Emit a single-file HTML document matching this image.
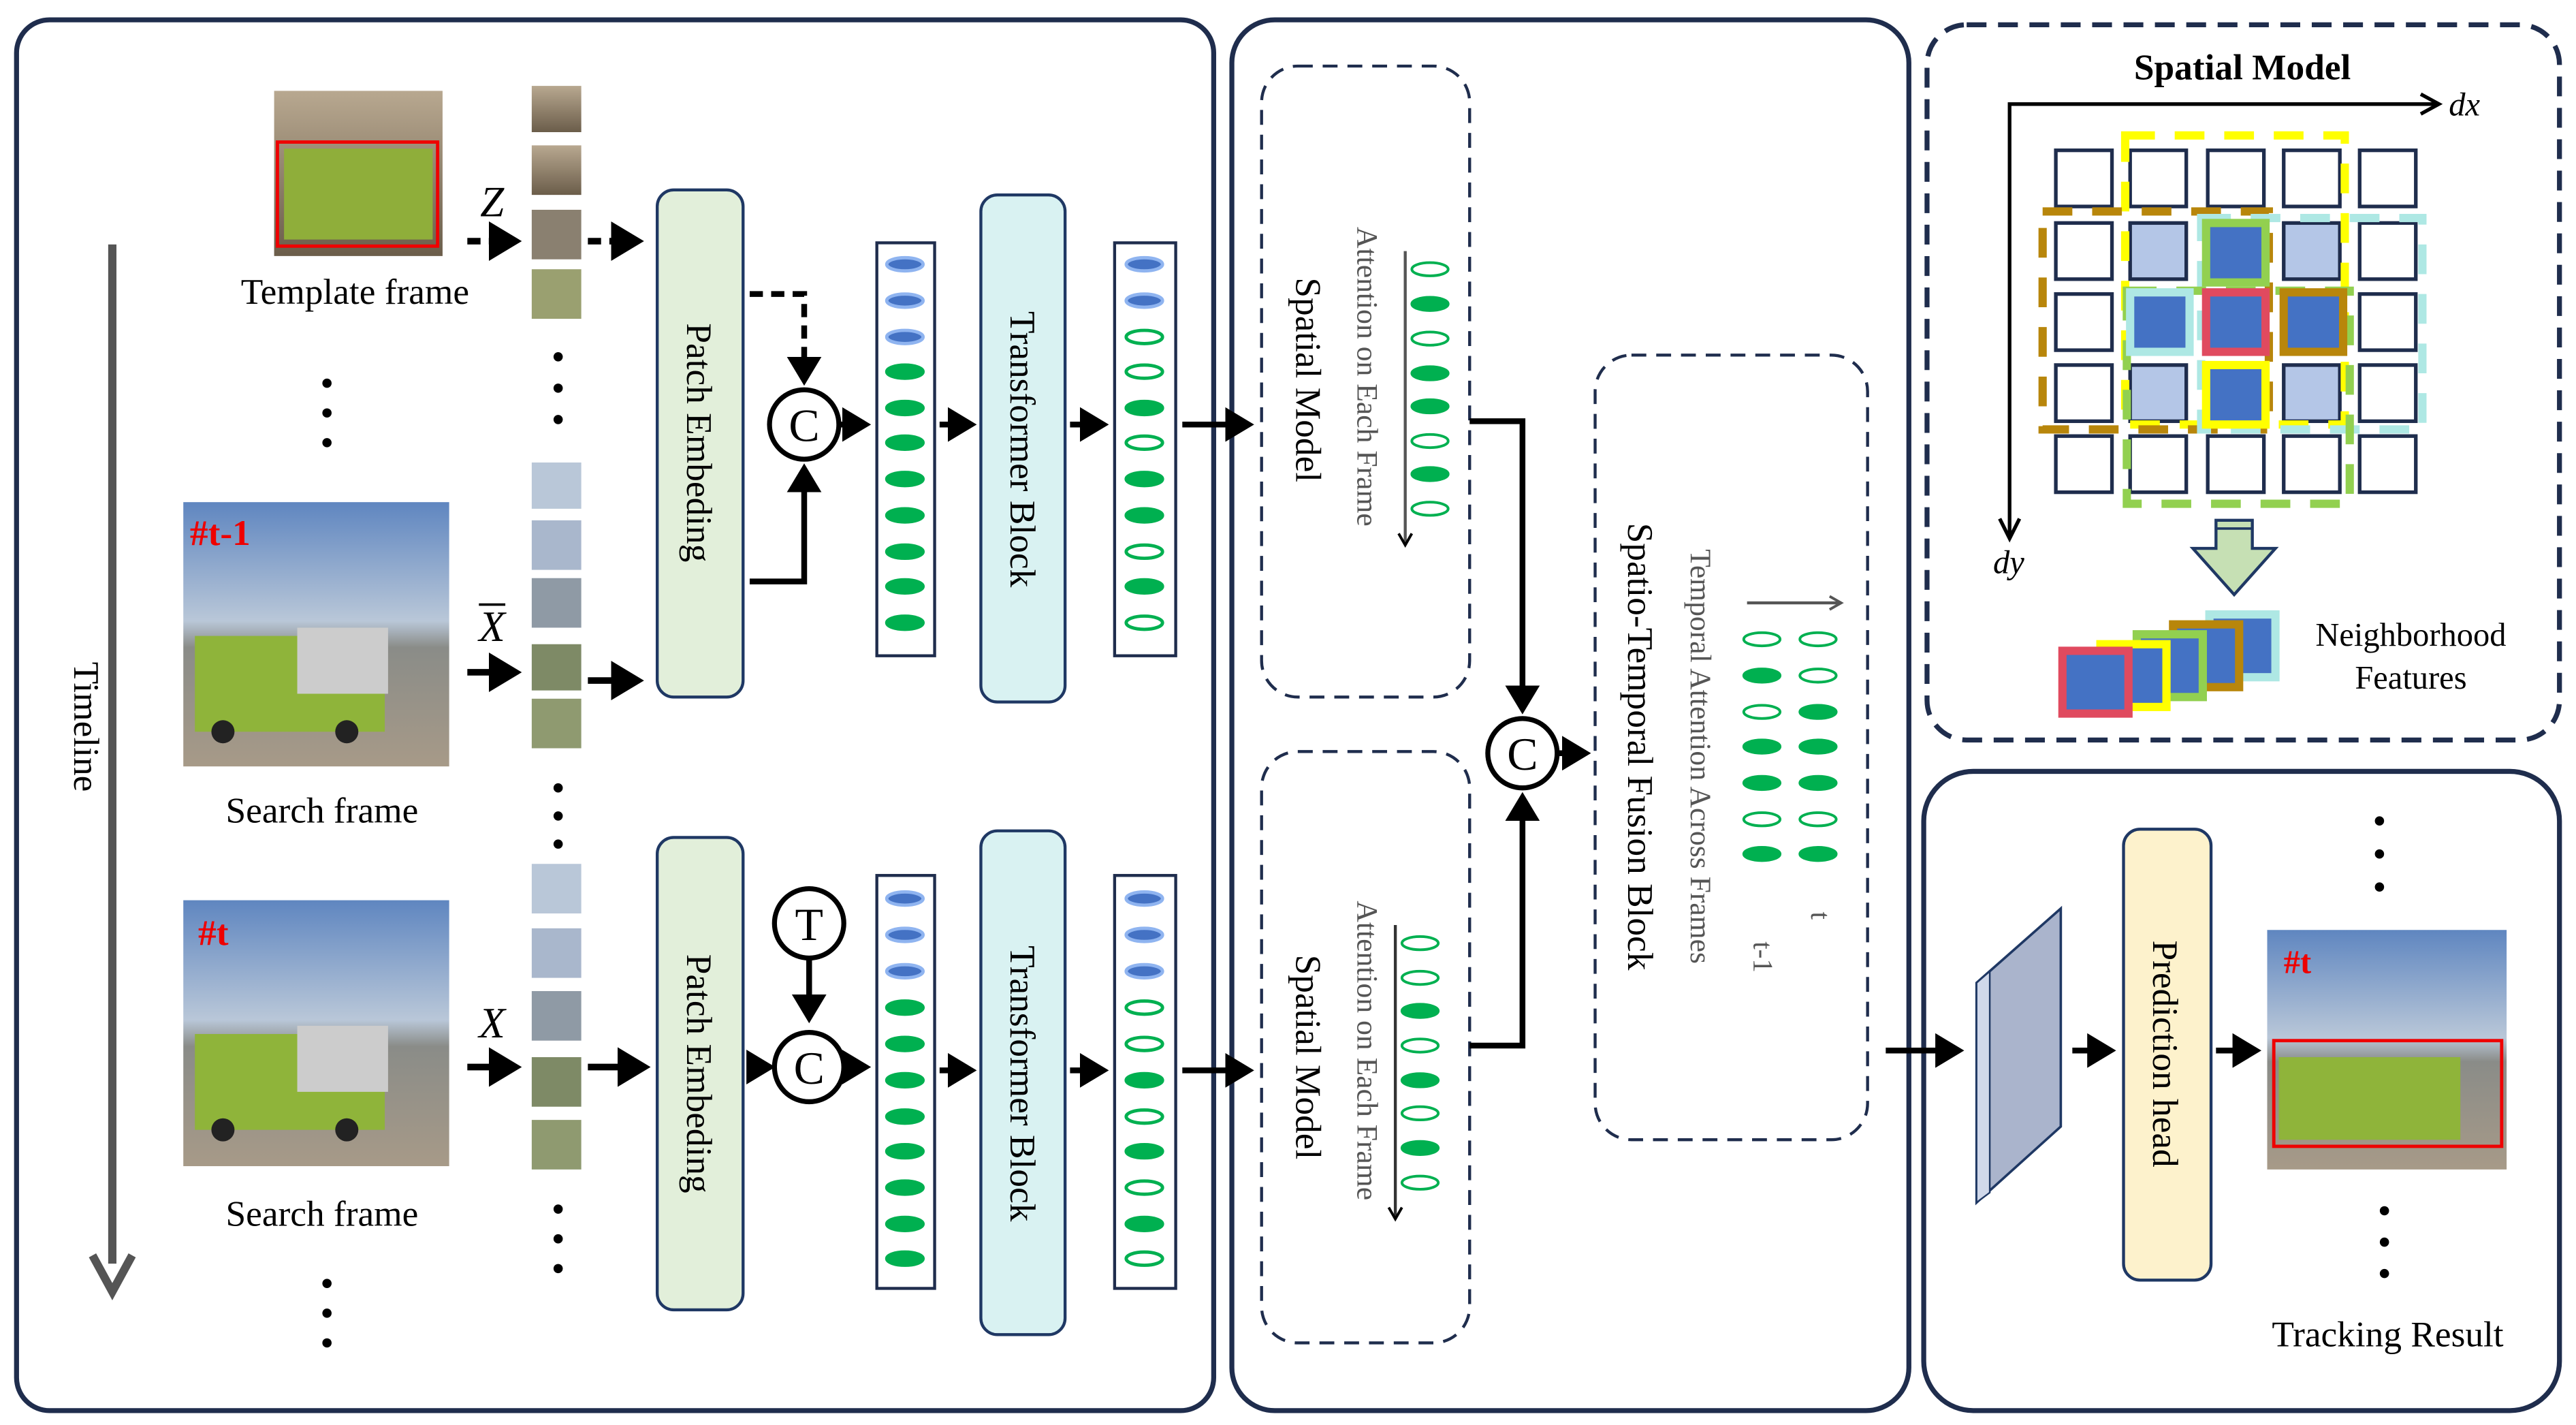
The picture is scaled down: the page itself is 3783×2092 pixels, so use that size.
<!DOCTYPE html>
<html><head><meta charset="utf-8"><style>
html,body{margin:0;padding:0;background:#fff}
svg{display:block;font-family:"Liberation Serif",serif}
text{font-family:"Liberation Serif",serif}
</style></head><body>
<svg width="3783" height="2092" viewBox="0 0 1560 862.7" xmlns="http://www.w3.org/2000/svg" font-family="Liberation Serif, serif">
<defs>
<marker id="ah" markerWidth="6" markerHeight="6" refX="4" refY="3" orient="auto" markerUnits="strokeWidth"><path d="M0,0 L5,3 L0,6 Z" fill="#000"/></marker>
<marker id="ahl" markerWidth="10" markerHeight="10" refX="8" refY="5" orient="auto" markerUnits="userSpaceOnUse"><path d="M1,1 L8,5 L1,9" fill="none" stroke="#000" stroke-width="1.6"/></marker>
<marker id="ahg" markerWidth="10" markerHeight="10" refX="8" refY="5" orient="auto" markerUnits="userSpaceOnUse"><path d="M1,1 L8,5 L1,9" fill="none" stroke="#555" stroke-width="1.6"/></marker>
<linearGradient id="sky" x1="0" y1="0" x2="0" y2="1">
<stop offset="0" stop-color="#5f86c0"/><stop offset="0.45" stop-color="#b9c7d8"/><stop offset="0.55" stop-color="#8a8c88"/><stop offset="1" stop-color="#a79a88"/></linearGradient>
<linearGradient id="bld" x1="0" y1="0" x2="0" y2="1"><stop offset="0" stop-color="#b8a890"/><stop offset="1" stop-color="#6b5d4a"/></linearGradient>
</defs>

<!-- Panels -->
<rect x="10" y="12" width="725" height="842" rx="20" fill="none" stroke="#1f2d4d" stroke-width="3"/>
<rect x="746" y="12" width="410" height="842" rx="26" fill="none" stroke="#1f2d4d" stroke-width="3"/>
<rect x="1167" y="15" width="383" height="433" rx="24" fill="none" stroke="#1f2d4d" stroke-width="3" stroke-dasharray="12,7"/>
<rect x="1165" y="467" width="385" height="387" rx="30" fill="none" stroke="#1f2d4d" stroke-width="3"/>

<!-- Timeline -->
<line x1="68" y1="148" x2="68" y2="765" stroke="#555" stroke-width="5"/>
<path d="M56,760 L68,782 L80,760" fill="none" stroke="#555" stroke-width="5"/>
<text x="45" y="440" font-size="22" text-anchor="middle" transform="rotate(90 45 440)">Timeline</text>

<!-- Template image -->
<rect x="166" y="55" width="102" height="100" fill="url(#bld)"/>
<rect x="172" y="90" width="90" height="55" fill="#8fae3a"/>
<rect x="168" y="86" width="97" height="63" fill="none" stroke="#e00" stroke-width="2"/>
<text x="215" y="184" font-size="22" text-anchor="middle">Template frame</text>
<circle cx="198" cy="232" r="2.8"/><circle cx="198" cy="250" r="2.8"/><circle cx="198" cy="268" r="2.8"/>

<!-- Search image 1 -->
<rect x="111" y="304" width="161" height="160" fill="url(#sky)"/>
<rect x="118" y="385" width="115" height="58" fill="#8fb43a"/>
<rect x="180" y="380" width="55" height="40" fill="#ccc"/>
<circle cx="135" cy="443" r="7" fill="#222"/><circle cx="210" cy="443" r="7" fill="#222"/>
<text x="115" y="330" font-size="22" fill="#e00" font-weight="bold" font-family="Liberation Mono, monospace">#t-1</text>
<text x="195" y="498" font-size="22" text-anchor="middle">Search frame</text>

<!-- Search image 2 -->
<rect x="111" y="545" width="161" height="161" fill="url(#sky)"/>
<rect x="118" y="626" width="115" height="58" fill="#8fb43a"/>
<rect x="180" y="621" width="55" height="40" fill="#ccc"/>
<circle cx="135" cy="684" r="7" fill="#222"/><circle cx="210" cy="684" r="7" fill="#222"/>
<text x="120" y="572" font-size="22" fill="#e00" font-weight="bold" font-family="Liberation Mono, monospace">#t</text>
<text x="195" y="742" font-size="22" text-anchor="middle">Search frame</text>
<circle cx="198" cy="777" r="2.8"/><circle cx="198" cy="795" r="2.8"/><circle cx="198" cy="813" r="2.8"/>

<!-- Patches -->
<g>
<rect x="322" y="52" width="30" height="28" fill="url(#bld)"/>
<rect x="322" y="88" width="30" height="30" fill="url(#bld)"/>
<rect x="322" y="127" width="30" height="30" fill="#8a8070"/>
<rect x="322" y="163" width="30" height="30" fill="#9aa070"/>
<circle cx="338" cy="216" r="2.8"/><circle cx="338" cy="235" r="2.8"/><circle cx="338" cy="254" r="2.8"/>
<rect x="322" y="280" width="30" height="28" fill="#b9c7d8"/>
<rect x="322" y="315" width="30" height="30" fill="#a9b7cc"/>
<rect x="322" y="350" width="30" height="30" fill="#8f9aa5"/>
<rect x="322" y="390" width="30" height="28" fill="#7e8a66"/>
<rect x="322" y="423" width="30" height="30" fill="#8f9a70"/>
<circle cx="338" cy="477" r="2.8"/><circle cx="338" cy="494" r="2.8"/><circle cx="338" cy="511" r="2.8"/>
<rect x="322" y="523" width="30" height="30" fill="#b9c7d8"/>
<rect x="322" y="562" width="30" height="30" fill="#a9b7cc"/>
<rect x="322" y="600" width="30" height="30" fill="#8f9aa5"/>
<rect x="322" y="640" width="30" height="30" fill="#7e8a66"/>
<rect x="322" y="678" width="30" height="30" fill="#8f9a70"/>
<circle cx="338" cy="732" r="2.8"/><circle cx="338" cy="750" r="2.8"/><circle cx="338" cy="768" r="2.8"/>
</g>

<!-- Labels Z X -->
<text x="298" y="131" font-size="26" font-style="italic" text-anchor="middle">Z</text>
<text x="298" y="388" font-size="26" font-style="italic" text-anchor="middle">X</text>
<line x1="290" y1="366" x2="306" y2="366" stroke="#000" stroke-width="1.5"/>
<text x="298" y="628" font-size="26" font-style="italic" text-anchor="middle">X</text>

<g stroke="#000" stroke-width="4" fill="none">
<line x1="283" y1="146" x2="312" y2="146" stroke-dasharray="8,5" marker-end="url(#ah)"/>
<line x1="356" y1="146" x2="386" y2="146" stroke-dasharray="8,5" marker-end="url(#ah)"/>
<line x1="283" y1="407" x2="312" y2="407" marker-end="url(#ah)"/>
<line x1="356" y1="412" x2="386" y2="412" marker-end="url(#ah)"/>
<line x1="283" y1="646" x2="312" y2="646" marker-end="url(#ah)"/>
<line x1="356" y1="646" x2="390" y2="646" marker-end="url(#ah)"/>
</g>

<!-- Patch Embedding -->
<rect x="398" y="115" width="52" height="307" rx="10" fill="#e2efda" stroke="#1f3864" stroke-width="1.8"/>
<text x="416" y="268" font-size="22" text-anchor="middle" transform="rotate(90 416 268)">Patch Embeding</text>
<rect x="398" y="507" width="52" height="286" rx="10" fill="#e2efda" stroke="#1f3864" stroke-width="1.8"/>
<text x="416" y="650" font-size="22" text-anchor="middle" transform="rotate(90 416 650)">Patch Embeding</text>

<!-- Connect upper -->
<g stroke="#000" stroke-width="3.5" fill="none">
<polyline points="454,178 487,178 487,230" stroke-dasharray="8,5" marker-end="url(#ah)"/>
<polyline points="454,352 487,352 487,284" marker-end="url(#ah)"/>
<line x1="508" y1="257" x2="524" y2="257" marker-end="url(#ah)"/>
<line x1="569" y1="257" x2="588" y2="257" marker-end="url(#ah)"/>
<line x1="648" y1="257" x2="668" y2="257" marker-end="url(#ah)"/>
<line x1="716" y1="257" x2="756" y2="257" marker-end="url(#ah)"/>
<line x1="490" y1="581" x2="490" y2="616" marker-end="url(#ah)"/>
<line x1="454" y1="646" x2="466" y2="646" marker-end="url(#ah)"/>
<line x1="511" y1="646" x2="524" y2="646" marker-end="url(#ah)"/>
<line x1="569" y1="648" x2="588" y2="648" marker-end="url(#ah)"/>
<line x1="648" y1="648" x2="668" y2="648" marker-end="url(#ah)"/>
<line x1="716" y1="648" x2="756" y2="648" marker-end="url(#ah)"/>
</g>
<circle cx="487" cy="257" r="21" fill="#fff" stroke="#000" stroke-width="3"/>
<text x="487" y="267" font-size="28" text-anchor="middle">C</text>
<circle cx="490" cy="559" r="21" fill="#fff" stroke="#000" stroke-width="3"/>
<text x="490" y="569" font-size="28" text-anchor="middle">T</text>
<circle cx="490" cy="646" r="21" fill="#fff" stroke="#000" stroke-width="3"/>
<text x="490" y="656" font-size="28" text-anchor="middle">C</text>

<!-- Token columns -->
<g stroke="#1f2d4d" stroke-width="1.8" fill="#fff">
<rect x="531" y="147" width="35" height="250"/>
<rect x="675" y="147" width="37" height="250"/>
<rect x="531" y="530" width="35" height="250"/>
<rect x="675" y="530" width="37" height="250"/>
</g>
<g stroke-width="2">
<g fill="#4472c4" stroke="#8fb4f0">
<ellipse cx="548" cy="160" rx="11" ry="4"/><ellipse cx="548" cy="182" rx="11" ry="4"/><ellipse cx="548" cy="204" rx="11" ry="4"/>
<ellipse cx="693" cy="160" rx="11" ry="4"/><ellipse cx="693" cy="182" rx="11" ry="4"/>
<ellipse cx="548" cy="544" rx="11" ry="4"/><ellipse cx="548" cy="566" rx="11" ry="4"/><ellipse cx="548" cy="588" rx="11" ry="4"/>
<ellipse cx="693" cy="544" rx="11" ry="4"/><ellipse cx="693" cy="566" rx="11" ry="4"/><ellipse cx="693" cy="588" rx="11" ry="4"/>
</g>
<g fill="#00b050" stroke="#00b050">
<ellipse cx="548" cy="225" rx="11" ry="4"/><ellipse cx="548" cy="247" rx="11" ry="4"/><ellipse cx="548" cy="268" rx="11" ry="4"/><ellipse cx="548" cy="290" rx="11" ry="4"/><ellipse cx="548" cy="312" rx="11" ry="4"/><ellipse cx="548" cy="334" rx="11" ry="4"/><ellipse cx="548" cy="355" rx="11" ry="4"/><ellipse cx="548" cy="377" rx="11" ry="4"/>
<ellipse cx="548" cy="610" rx="11" ry="4"/><ellipse cx="548" cy="632" rx="11" ry="4"/><ellipse cx="548" cy="654" rx="11" ry="4"/><ellipse cx="548" cy="676" rx="11" ry="4"/><ellipse cx="548" cy="697" rx="11" ry="4"/><ellipse cx="548" cy="719" rx="11" ry="4"/><ellipse cx="548" cy="741" rx="11" ry="4"/><ellipse cx="548" cy="762" rx="11" ry="4"/>
<ellipse cx="693" cy="247" rx="11" ry="4"/><ellipse cx="693" cy="290" rx="11" ry="4"/><ellipse cx="693" cy="312" rx="11" ry="4"/><ellipse cx="693" cy="355" rx="11" ry="4"/>
<ellipse cx="693" cy="654" rx="11" ry="4"/><ellipse cx="693" cy="697" rx="11" ry="4"/><ellipse cx="693" cy="741" rx="11" ry="4"/>
</g>
<g fill="#fff" stroke="#00b050">
<ellipse cx="693" cy="204" rx="11" ry="4"/><ellipse cx="693" cy="225" rx="11" ry="4"/><ellipse cx="693" cy="268" rx="11" ry="4"/><ellipse cx="693" cy="334" rx="11" ry="4"/><ellipse cx="693" cy="377" rx="11" ry="4"/>
<ellipse cx="693" cy="610" rx="11" ry="4"/><ellipse cx="693" cy="632" rx="11" ry="4"/><ellipse cx="693" cy="676" rx="11" ry="4"/><ellipse cx="693" cy="719" rx="11" ry="4"/><ellipse cx="693" cy="762" rx="11" ry="4"/>
</g>
</g>

<!-- Transformer blocks -->
<rect x="594" y="118" width="51" height="307" rx="10" fill="#d9f2f2" stroke="#1f3864" stroke-width="1.8"/>
<text x="612" y="272" font-size="22" text-anchor="middle" transform="rotate(90 612 272)">Transformer Block</text>
<rect x="594" y="503" width="51" height="305" rx="10" fill="#d9f2f2" stroke="#1f3864" stroke-width="1.8"/>
<text x="612" y="656" font-size="22" text-anchor="middle" transform="rotate(90 612 656)">Transformer Block</text>

<!-- Panel 2 -->
<rect x="764" y="40" width="126" height="382" rx="22" fill="none" stroke="#1f2d4d" stroke-width="1.8" stroke-dasharray="9,6"/>
<rect x="764" y="455" width="126" height="358" rx="22" fill="none" stroke="#1f2d4d" stroke-width="1.8" stroke-dasharray="9,6"/>
<text x="785" y="230" font-size="22" text-anchor="middle" transform="rotate(90 785 230)">Spatial Model</text>
<text x="822" y="228" font-size="18" fill="#555" text-anchor="middle" transform="rotate(90 822 228)">Attention on Each Frame</text>
<text x="785" y="640" font-size="22" text-anchor="middle" transform="rotate(90 785 640)">Spatial Model</text>
<text x="822" y="636" font-size="18" fill="#555" text-anchor="middle" transform="rotate(90 822 636)">Attention on Each Frame</text>
<line x1="851" y1="152" x2="851" y2="330" stroke="#555" stroke-width="1.8" marker-end="url(#ahl)"/>
<line x1="845" y1="560" x2="845" y2="738" stroke="#333" stroke-width="1.8" marker-end="url(#ahl)"/>
<g stroke-width="1.6" stroke="#00b050">
<ellipse cx="866" cy="163" rx="11" ry="4" fill="#fff"/><ellipse cx="866" cy="184" rx="11" ry="4" fill="#00b050"/><ellipse cx="866" cy="205" rx="11" ry="4" fill="#fff"/><ellipse cx="866" cy="226" rx="11" ry="4" fill="#00b050"/><ellipse cx="866" cy="246" rx="11" ry="4" fill="#00b050"/><ellipse cx="866" cy="267" rx="11" ry="4" fill="#fff"/><ellipse cx="866" cy="287" rx="11" ry="4" fill="#00b050"/><ellipse cx="866" cy="308" rx="11" ry="4" fill="#fff"/>
<ellipse cx="860" cy="571" rx="11" ry="4" fill="#fff"/><ellipse cx="860" cy="592" rx="11" ry="4" fill="#fff"/><ellipse cx="860" cy="612" rx="11" ry="4" fill="#00b050"/><ellipse cx="860" cy="633" rx="11" ry="4" fill="#fff"/><ellipse cx="860" cy="654" rx="11" ry="4" fill="#00b050"/><ellipse cx="860" cy="674" rx="11" ry="4" fill="#fff"/><ellipse cx="860" cy="695" rx="11" ry="4" fill="#00b050"/><ellipse cx="860" cy="716" rx="11" ry="4" fill="#fff"/>
</g>
<g stroke="#000" stroke-width="3.5" fill="none">
<polyline points="890,255 922,255 922,429" marker-end="url(#ah)"/>
<polyline points="890,633 922,633 922,483" marker-end="url(#ah)"/>
<line x1="944" y1="456" x2="960" y2="456" marker-end="url(#ah)"/>
</g>
<circle cx="922" cy="456" r="21" fill="#fff" stroke="#000" stroke-width="3"/>
<text x="922" y="466" font-size="28" text-anchor="middle">C</text>

<rect x="966" y="215" width="165" height="475" rx="22" fill="none" stroke="#1f2d4d" stroke-width="1.8" stroke-dasharray="9,6"/>
<text x="986" y="452" font-size="22" text-anchor="middle" transform="rotate(90 986 452)">Spatio-Temporal Fusion Block</text>
<text x="1024" y="458" font-size="18" fill="#555" text-anchor="middle" transform="rotate(90 1024 458)">Temporal Attention Across Frames</text>
<line x1="1058" y1="365" x2="1115" y2="365" stroke="#555" stroke-width="1.8" marker-end="url(#ahg)"/>
<g stroke-width="1.6" stroke="#00b050">
<ellipse cx="1067" cy="387" rx="11" ry="4" fill="#fff"/><ellipse cx="1067" cy="409" rx="11" ry="4" fill="#00b050"/><ellipse cx="1067" cy="431" rx="11" ry="4" fill="#fff"/><ellipse cx="1067" cy="452" rx="11" ry="4" fill="#00b050"/><ellipse cx="1067" cy="474" rx="11" ry="4" fill="#00b050"/><ellipse cx="1067" cy="496" rx="11" ry="4" fill="#fff"/><ellipse cx="1067" cy="517" rx="11" ry="4" fill="#00b050"/>
<ellipse cx="1101" cy="387" rx="11" ry="4" fill="#fff"/><ellipse cx="1101" cy="409" rx="11" ry="4" fill="#fff"/><ellipse cx="1101" cy="431" rx="11" ry="4" fill="#00b050"/><ellipse cx="1101" cy="452" rx="11" ry="4" fill="#00b050"/><ellipse cx="1101" cy="474" rx="11" ry="4" fill="#00b050"/><ellipse cx="1101" cy="496" rx="11" ry="4" fill="#fff"/><ellipse cx="1101" cy="517" rx="11" ry="4" fill="#00b050"/>
</g>
<text x="1062" y="570" font-size="17" fill="#555" transform="rotate(90 1062 570)">t-1</text>
<text x="1097" y="552" font-size="17" fill="#555" transform="rotate(90 1097 552)">t</text>

<!-- Panel 4 -->
<line x1="1142" y1="636" x2="1186" y2="636" stroke="#000" stroke-width="3.5" marker-end="url(#ah)"/>
<polygon points="1197,595 1248,550 1248,682 1197,728" fill="#aab4cc" stroke="#1f3864" stroke-width="1.5"/>
<polygon points="1197,595 1205,588 1205,722 1197,728" fill="#d0d8ea" stroke="#1f3864" stroke-width="1"/>
<line x1="1255" y1="636" x2="1278" y2="636" stroke="#000" stroke-width="3.5" marker-end="url(#ah)"/>
<rect x="1286" y="502" width="53" height="273" rx="10" fill="#fdf2cc" stroke="#1f3864" stroke-width="1.8"/>
<text x="1304" y="638" font-size="22" text-anchor="middle" transform="rotate(90 1304 638)">Prediction head</text>
<line x1="1342" y1="636" x2="1366" y2="636" stroke="#000" stroke-width="3.5" marker-end="url(#ah)"/>
<rect x="1373" y="563" width="145" height="145" fill="url(#sky)"/>
<rect x="1380" y="640" width="110" height="50" fill="#8fb43a"/>
<rect x="1377" y="630" width="138" height="64" fill="none" stroke="#e00" stroke-width="2"/>
<text x="1383" y="589" font-size="20" fill="#e00" font-weight="bold" font-family="Liberation Mono, monospace">#t</text>
<circle cx="1441" cy="497" r="2.8"/><circle cx="1441" cy="517" r="2.8"/><circle cx="1441" cy="537" r="2.8"/>
<circle cx="1444" cy="733" r="2.8"/><circle cx="1444" cy="752" r="2.8"/><circle cx="1444" cy="771" r="2.8"/>
<text x="1446" y="815" font-size="22" text-anchor="middle">Tracking Result</text>

<!-- Panel 3 -->
<text x="1358" y="48" font-size="22" font-weight="bold" text-anchor="middle">Spatial Model</text>
<polyline points="1476,63 1217,63 1217,325" fill="none" stroke="#000" stroke-width="2.2"/>
<path d="M1466,57 L1477,63 L1466,69" fill="none" stroke="#000" stroke-width="2.2"/>
<path d="M1211,314 L1217,326 L1223,314" fill="none" stroke="#000" stroke-width="2.2"/>
<text x="1483" y="70" font-size="20" font-style="italic">dx</text>
<text x="1207" y="347" font-size="20" font-style="italic">dy</text>

<g stroke="#1f2d4d" stroke-width="2.2" fill="#fff">
<rect x="1245" y="91" width="34" height="34"/><rect x="1290" y="91" width="34" height="34"/><rect x="1337" y="91" width="34" height="34"/><rect x="1383" y="91" width="34" height="34"/><rect x="1429" y="91" width="34" height="34"/>
<rect x="1245" y="135" width="34" height="34"/><rect x="1290" y="135" width="34" height="34" fill="#b4c6e7"/><rect x="1337" y="135" width="34" height="34"/><rect x="1383" y="135" width="34" height="34" fill="#b4c6e7"/><rect x="1429" y="135" width="34" height="34"/>
<rect x="1245" y="178" width="34" height="34"/><rect x="1290" y="178" width="34" height="34"/><rect x="1337" y="178" width="34" height="34"/><rect x="1383" y="178" width="34" height="34"/><rect x="1429" y="178" width="34" height="34"/>
<rect x="1245" y="221" width="34" height="34"/><rect x="1290" y="221" width="34" height="34" fill="#b4c6e7"/><rect x="1337" y="221" width="34" height="34"/><rect x="1383" y="221" width="34" height="34" fill="#b4c6e7"/><rect x="1429" y="221" width="34" height="34"/>
<rect x="1245" y="264" width="34" height="34"/><rect x="1290" y="264" width="34" height="34"/><rect x="1337" y="264" width="34" height="34"/><rect x="1383" y="264" width="34" height="34"/><rect x="1429" y="264" width="34" height="34"/>
</g>
<g fill="none" stroke-width="5" stroke-dasharray="18,12">
<rect x="1287" y="82" width="133" height="175" stroke="#ffff00"/>
<rect x="1237" y="128" width="137" height="132" stroke="#b8860b"/>
<rect x="1333" y="132" width="134" height="128" stroke="#aee8e4"/>
<rect x="1288" y="176" width="135" height="129" stroke="#92d050"/>
</g>
<g stroke-width="5" fill="#4472c4">
<rect x="1336" y="135" width="36" height="36" stroke="#92d050"/>
<rect x="1290" y="177" width="36" height="36" stroke="#aee8e4"/>
<rect x="1336" y="177" width="36" height="36" stroke="#e04a5f"/>
<rect x="1383" y="177" width="36" height="36" stroke="#b8860b"/>
<rect x="1336" y="221" width="36" height="36" stroke="#ffff00"/>
</g>
<polygon points="1342,315 1364,315 1364,332 1378,332 1353,360 1328,332 1342,332" fill="#c6e0b4" stroke="#1f3864" stroke-width="1.8"/>
<line x1="1342" y1="320" x2="1364" y2="320" stroke="#1f3864" stroke-width="1.5"/>
<g stroke-width="5" fill="#4472c4">
<rect x="1338" y="372" width="40" height="38" stroke="#aee8e4"/>
<rect x="1316" y="378" width="40" height="38" stroke="#b8860b"/>
<rect x="1294" y="384" width="40" height="38" stroke="#92d050"/>
<rect x="1272" y="390" width="40" height="38" stroke="#ffff00"/>
<rect x="1249" y="394" width="40" height="38" stroke="#e04a5f"/>
</g>
<text x="1460" y="391" font-size="20" text-anchor="middle">Neighborhood</text>
<text x="1460" y="417" font-size="20" text-anchor="middle">Features</text>
</svg>
</body></html>
